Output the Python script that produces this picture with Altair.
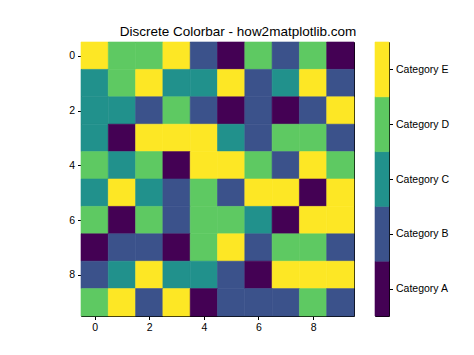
import altair as alt
import pandas as pd

# Category index per cell (0=A ... 4=E), rows top to bottom
row0 = [4, 3, 3, 4, 1, 0, 3, 1, 3, 0]
row1 = [2, 3, 4, 2, 2, 4, 1, 2, 4, 1]
row2 = [2, 2, 1, 3, 1, 0, 1, 0, 1, 4]
row3 = [2, 0, 4, 4, 4, 2, 1, 3, 3, 1]
row4 = [3, 2, 3, 0, 4, 4, 3, 1, 4, 3]
row5 = [2, 4, 2, 1, 3, 1, 4, 4, 0, 4]
row6 = [3, 0, 3, 1, 3, 3, 2, 0, 4, 4]
row7 = [0, 1, 1, 0, 3, 4, 1, 3, 3, 1]
row8 = [1, 2, 4, 2, 2, 1, 0, 4, 4, 4]
row9 = [3, 4, 1, 4, 0, 1, 1, 1, 3, 1]
grid = [row0, row1, row2, row3, row4, row5, row6, row7, row8, row9]

categories = ["Category A", "Category B", "Category C", "Category D", "Category E"]
colors = ["#440154", "#3b528b", "#21918c", "#5ec962", "#fde725"]
x_ticks = [0, 2, 4, 6, 8]
y_ticks = [0, 2, 4, 6, 8]
cb_ticks = [0.5, 1.5, 2.5, 3.5, 4.5]

FONT = "Liberation Sans"

records = []
for r, row in enumerate(grid):
    for c, v in enumerate(row):
        records.append({"row": r, "col": c, "category": categories[v]})
df = pd.DataFrame(records)

cb_df = pd.DataFrame({
    "category": categories,
    "lo": list(range(len(categories))),
    "hi": [i + 1 for i in range(len(categories))],
})

color = alt.Color("category:N", scale=alt.Scale(domain=categories, range=colors), legend=None)
stroke = alt.Stroke("category:N", scale=alt.Scale(domain=categories, range=colors), legend=None)

heat = alt.Chart(df).transform_calculate(
    x0="datum.col - 0.5", x1="datum.col + 0.5",
    y0="datum.row - 0.5", y1="datum.row + 0.5",
).mark_rect(strokeWidth=0.6).encode(
    x=alt.X("x0:Q", scale=alt.Scale(domain=[-0.5, 9.5], nice=False, zero=False),
            axis=alt.Axis(values=x_ticks, title=None, grid=False, domain=False, format="d")),
    x2="x1:Q",
    y=alt.Y("y0:Q", scale=alt.Scale(domain=[-0.5, 9.5], nice=False, zero=False, reverse=True),
            axis=alt.Axis(values=y_ticks, title=None, grid=False, domain=False, format="d",
                          minExtent=20, maxExtent=20)),
    y2="y1:Q",
    color=color,
    stroke=stroke,
).properties(width=273, height=274)

label_expr = "['" + "','".join(categories) + "'][floor(datum.value)]"
cbar = alt.Chart(cb_df).mark_rect(strokeWidth=0.6).encode(
    x=alt.value(0), x2=alt.value(14),
    y=alt.Y("lo:Q", scale=alt.Scale(domain=[0, 5], nice=False, zero=False),
            axis=alt.Axis(orient="right", values=cb_ticks, labelExpr=label_expr,
                          title=None, grid=False, domain=False)),
    y2="hi:Q",
    color=color,
    stroke=stroke,
).properties(width=14, height=274)

chart = alt.hconcat(heat, cbar, spacing=19).properties(
    title=alt.TitleParams(
        text="Discrete Colorbar - how2matplotlib.com",
        anchor="start", frame="group", align="center", dx=157,
        fontSize=13.5, fontWeight="normal", font=FONT, color="black", offset=3,
    ),
    padding={"left": 60, "top": 24, "right": 5, "bottom": 5},
).configure_view(
    stroke="black", strokeWidth=1,
).configure_axis(
    labelFont=FONT, labelFontSize=10.5, labelColor="black",
    tickColor="black", tickSize=3.5, labelPadding=3,
)

chart.save("out.html", embed_options={"renderer": "svg", "actions": False})
